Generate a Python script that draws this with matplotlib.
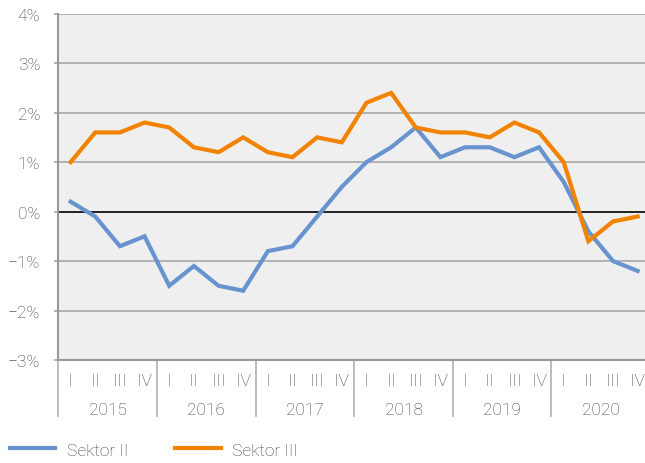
import numpy as np
import matplotlib
matplotlib.use('Agg')
import matplotlib.pyplot as plt
from matplotlib.ticker import FixedLocator, FuncFormatter

plt.rcParams['font.family'] = ['Roboto', 'DejaVu Sans']
plt.rcParams['font.weight'] = 'light'
plt.rcParams['axes.unicode_minus'] = True

# Daten
jahre = ['2015', '2016', '2017', '2018', '2019', '2020']
quartale = ['I', 'II', 'III', 'IV']
sektor_2 = [0.2, -0.1, -0.7, -0.5, -1.5, -1.1, -1.5, -1.6, -0.8, -0.7, -0.1, 0.5,
            1.0, 1.3, 1.7, 1.1, 1.3, 1.3, 1.1, 1.3, 0.6, -0.4, -1.0, -1.2]
sektor_3 = [1.0, 1.6, 1.6, 1.8, 1.7, 1.3, 1.2, 1.5, 1.2, 1.1, 1.5, 1.4,
            2.2, 2.4, 1.7, 1.6, 1.6, 1.5, 1.8, 1.6, 1.0, -0.6, -0.2, -0.1]
y_ticks = [-3, -2, -1, 0, 1, 2, 3, 4]

text_col = '#404040'
grid_col = '#a8a8a8'
blau = '#6794cf'
orange = '#f28300'
fs = 12.5

fig = plt.figure(figsize=(6.45, 4.64), dpi=100)
W, H = 645, 464
ax = fig.add_axes([58.3 / W, 1 - 361 / H, (650 - 58.3) / W, (361 - 14.7) / H])
ax.set_facecolor('#efefef')

x = np.arange(len(sektor_2))
ax.set_xlim(-0.5, len(x) - 0.5)
ax.set_ylim(-3, 4)

# Gitter
for v in y_ticks:
    if v == 0:
        continue
    ax.axhline(v, color=grid_col, lw=1.2, zorder=1)
ax.axhline(0, color='#111111', lw=1.3, zorder=2)

ax.plot(x, sektor_2, color=blau, lw=3, solid_joinstyle='miter', zorder=3, label='Sektor II')
ax.plot(x, sektor_3, color=orange, lw=3, solid_joinstyle='miter', zorder=3, label='Sektor III')

ax.yaxis.set_major_locator(FixedLocator(y_ticks))
ax.yaxis.set_major_formatter(FuncFormatter(lambda v, p: '%d%%' % v if v >= 0 else '\u2212%d%%' % -v))
ax.tick_params(axis='y', length=3, width=1.2, color=grid_col, pad=10, labelsize=fs, labelcolor=text_col)
ax.set_xticks([])

for s in ['top', 'right']:
    ax.spines[s].set_visible(False)
ax.spines['left'].set_color('#999999')
ax.spines['left'].set_linewidth(1.5)
ax.spines['bottom'].set_color('#999999')
ax.spines['bottom'].set_linewidth(1.5)

# Kategorien unten
trans = ax.get_xaxis_transform()
y_q = -(382 - 361) / (361 - 14.7)
y_j = -(411 - 361) / (361 - 14.7)
y_sep = -(417 - 361) / (361 - 14.7)
for i in range(len(x)):
    ax.text(x[i], y_q, quartale[i % 4], transform=trans, ha='center', va='center',
            fontsize=fs, color=text_col)
for j, jahr in enumerate(jahre):
    ax.text(j * 4 + 1.5, y_j, jahr, transform=trans, ha='center', va='center',
            fontsize=fs, color=text_col)
for j in range(len(jahre) + 1):
    ax.plot([j * 4 - 0.5, j * 4 - 0.5], [0, y_sep], transform=trans, color='#b0b0b0',
            lw=1.2, clip_on=False)

fig.legend(loc='center left', bbox_to_anchor=(10 / W, 1 - 451 / H), ncol=2, frameon=False,
           fontsize=fs, labelcolor=text_col, handlelength=2.6, handletextpad=0.69,
           columnspacing=2.7, borderpad=0, borderaxespad=0)

fig.savefig('out.png', dpi=100)
